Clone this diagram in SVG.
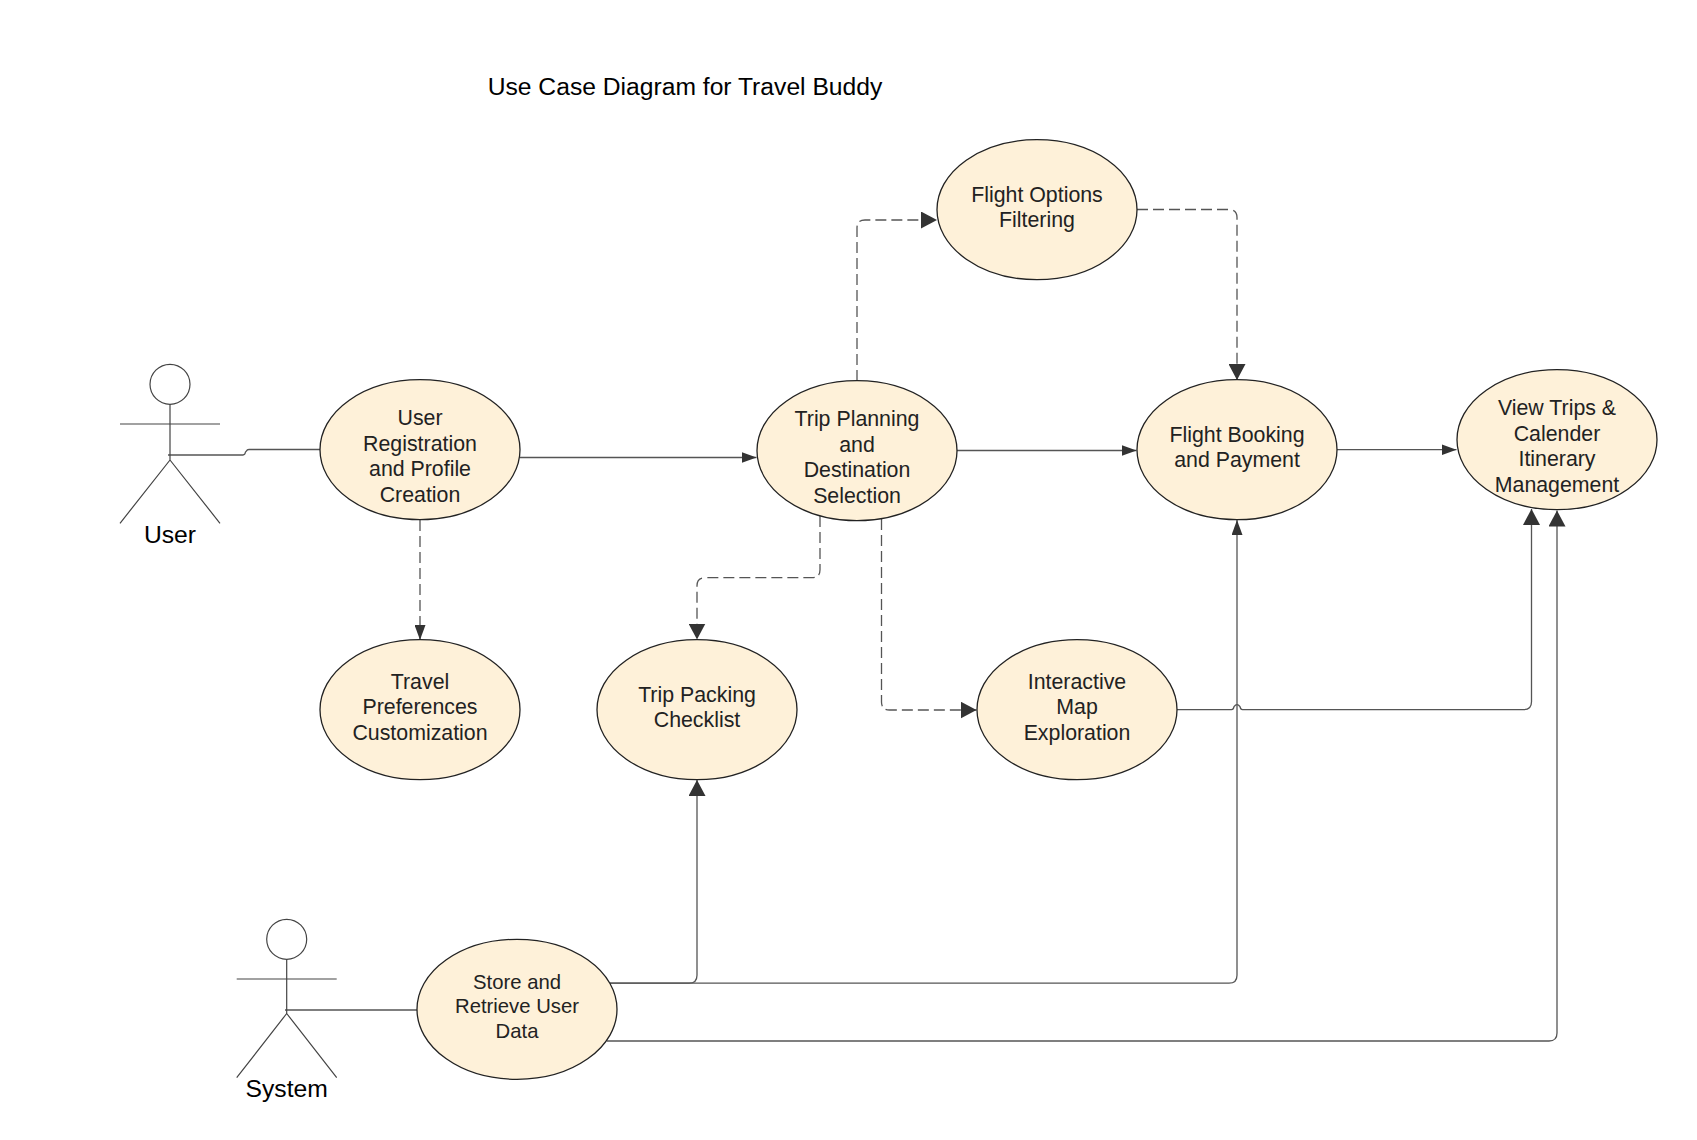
<svg xmlns="http://www.w3.org/2000/svg" width="1697" height="1140" viewBox="0 0 1697 1140">
<defs>
<marker id="a" markerUnits="userSpaceOnUse" markerWidth="15" markerHeight="11" refX="15" refY="5.500" orient="auto"><path d="M0 0L15 5.500L0 11z" fill="#333"/></marker>
<marker id="b" markerUnits="userSpaceOnUse" markerWidth="16" markerHeight="17" refX="16" refY="8.500" orient="auto"><path d="M0 0L16 8.500L0 17z" fill="#333"/></marker>
</defs>
<style>
text{font-family:"Liberation Sans",Arial,sans-serif;fill:#222;text-anchor:middle;font-size:21.33px}
.uc{fill:#fef1d9;stroke:#222;stroke-width:1.3}
.c{fill:none;stroke:#555;stroke-width:1.3}
.d{stroke-dasharray:11 5}
.s{marker-end:url(#a)}
.l{marker-end:url(#b)}
.act{fill:none;stroke:#444;stroke-width:1.2}
.name{font-size:24.7px;fill:#000}
.sm{font-size:20.3px}
</style>
<rect width="1697" height="1140" fill="#fff"/>
<text x="685" y="95" style="font-size:24.67px;fill:#000">Use Case Diagram for Travel Buddy</text>
<g id="connectors">
<path class="c" d="M168 455H243Q245 455 245.500 452L246.500 451Q247 449.500 249 449.500H320"/>
<path class="c s" d="M520 457.500H756.500"/>
<path class="c s" d="M957 450.500H1136.500"/>
<path class="c s" d="M1337 449.700H1456.500"/>
<path class="c d s" d="M420 520V640"/>
<path class="c d l" d="M857 381V228Q857 220 865 220H937"/>
<path class="c d l" d="M1137 209.500H1229Q1237 209.500 1237 217.500V380"/>
<path class="c d l" d="M820 516V569.700Q820 577.700 812 577.700H705Q697 577.700 697 585.700V639.500"/>
<path class="c d l" d="M881.500 519V702Q881.500 710 889.500 710H976.500"/>
<path class="c l" d="M1177 709.700H1231.500Q1233.500 709.700 1234 706.700Q1237 702.500 1240 706.700Q1240.500 709.700 1242.500 709.700H1523.500Q1531.500 709.700 1531.500 701.700V509"/>
<path class="c l" d="M610 983.200H689Q697 983.200 697 975.200V780"/>
<path class="c s" d="M610 983.200H1229Q1237 983.200 1237 975.200V520"/>
<path class="c l" d="M607 1041H1549Q1557 1041 1557 1033V510.500"/>
<path class="c" d="M285 1010H417"/>
</g>
<g id="actor-user">
<circle class="act" cx="170" cy="384.300" r="20"/>
<path class="act" d="M170 404.300V460M120 424H220M170 460L120 523.300M170 460L220 523.300"/>
<text class="name" x="170" y="542.800">User</text>
</g>
<g id="actor-system">
<circle class="act" cx="286.700" cy="939.300" r="20"/>
<path class="act" d="M286.700 959.300V1013.500M236.700 979H336.700M286.700 1013.500L236.700 1077.700M286.700 1013.500L336.700 1077.700"/>
<text class="name" x="286.700" y="1097">System</text>
</g>
<g id="uc-registration"><ellipse class="uc" cx="420" cy="449.700" rx="100" ry="70"/>
<text x="420" y="425">User</text><text x="420" y="450.500">Registration</text><text x="420" y="476">and Profile</text><text x="420" y="501.800">Creation</text></g>
<g id="uc-trip"><ellipse class="uc" cx="857" cy="450.700" rx="100" ry="70"/>
<text x="857" y="426">Trip Planning</text><text x="857" y="451.500">and</text><text x="857" y="477">Destination</text><text x="857" y="502.800">Selection</text></g>
<g id="uc-options"><ellipse class="uc" cx="1037" cy="209.700" rx="100" ry="70"/>
<text x="1037" y="202">Flight Options</text><text x="1037" y="227">Filtering</text></g>
<g id="uc-booking"><ellipse class="uc" cx="1237" cy="449.700" rx="100" ry="70"/>
<text x="1237" y="441.500">Flight Booking</text><text x="1237" y="467">and Payment</text></g>
<g id="uc-view"><ellipse class="uc" cx="1557" cy="439.700" rx="100" ry="70"/>
<text x="1557" y="415">View Trips &amp;</text><text x="1557" y="440.500">Calender</text><text x="1557" y="466">Itinerary</text><text x="1557" y="491.800">Management</text></g>
<g id="uc-preferences"><ellipse class="uc" cx="420" cy="709.700" rx="100" ry="70"/>
<text x="420" y="688.800">Travel</text><text x="420" y="714.300">Preferences</text><text x="420" y="739.800">Customization</text></g>
<g id="uc-packing"><ellipse class="uc" cx="697" cy="709.700" rx="100" ry="70"/>
<text x="697" y="701.800">Trip Packing</text><text x="697" y="727">Checklist</text></g>
<g id="uc-map"><ellipse class="uc" cx="1077" cy="709.700" rx="100" ry="70"/>
<text x="1077" y="688.800">Interactive</text><text x="1077" y="714.300">Map</text><text x="1077" y="739.800">Exploration</text></g>
<g id="uc-store"><ellipse class="uc" cx="517" cy="1009.300" rx="100" ry="70"/>
<text class="sm" x="517" y="989">Store and</text><text class="sm" x="517" y="1013">Retrieve User</text><text class="sm" x="517" y="1037.500">Data</text></g>
</svg>
